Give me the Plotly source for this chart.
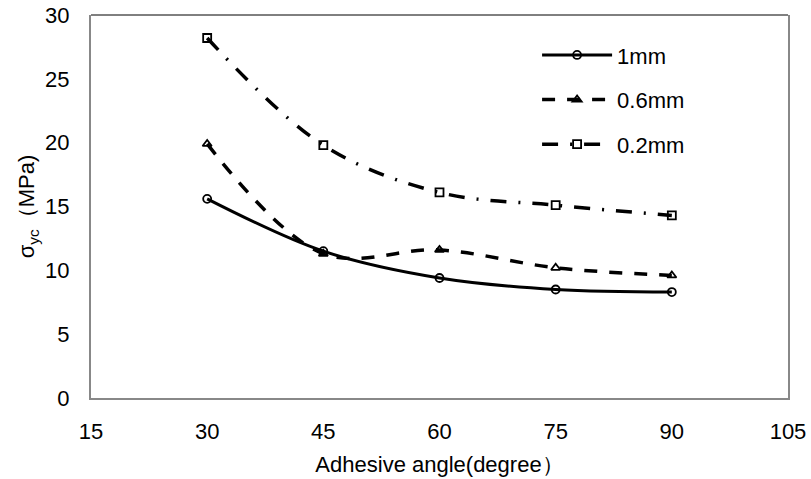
import plotly.graph_objects as go

angles = [30, 45, 60, 75, 90]
s_1mm = [15.6, 11.5, 9.4, 8.5, 8.3]
s_06mm = [19.9, 11.3, 11.6, 10.2, 9.6]
s_02mm = [28.2, 19.8, 16.1, 15.1, 14.3]
names = ["1mm", "0.6mm", "0.2mm"]
x_ticks = [15, 30, 45, 60, 75, 90, 105]
y_ticks = [0, 5, 10, 15, 20, 25, 30]

FONT = "Liberation Sans, Arial, sans-serif"

fig = go.Figure()
styles = [
    (s_1mm, "solid", "circle-open", 3),
    (s_06mm, "13px,12px", "triangle-up-open", 3.5),
    (s_02mm, "16px,12px,2px,12px", "square-open", 3.5),
]
for name, (vals, dash, sym, w) in zip(names, styles):
    fig.add_trace(go.Scatter(
        x=angles, y=vals, name=name, legendgroup=name,
        mode="lines+markers",
        line=dict(color="black", width=w, dash=dash, shape="spline", smoothing=1),
        marker=dict(symbol=sym, size=8, color="black", line=dict(width=1.8, color="black")),
    ))

fig.update_layout(
    width=811, height=479,
    margin=dict(l=91, r=23, t=15, b=81),
    paper_bgcolor="white", plot_bgcolor="white",
    font=dict(family=FONT, size=22, color="black"),
    showlegend=True,
    legend=dict(x=0.64, y=0.95, xanchor="left", yanchor="top",
                bgcolor="rgba(0,0,0,0)", tracegroupgap=13, itemwidth=70,
                font=dict(size=22)),
    xaxis=dict(range=[15, 105], tickvals=x_ticks, showgrid=False, zeroline=False,
               showline=True, linecolor="#888888", linewidth=2, mirror=False,
               ticks="", ticklabelstandoff=13, automargin=False,
               title=dict(text="Adhesive angle(degree）", font=dict(size=22), standoff=13)),
    yaxis=dict(range=[0, 30], tickvals=y_ticks, showgrid=False, zeroline=False,
               showline=True, linecolor="#888888", linewidth=2, mirror=True,
               ticks="", ticklabelstandoff=15, automargin=False,
               title=dict(text="σ<sub>yc</sub>（MPa)", font=dict(size=22), standoff=4)),
    shapes=[dict(type="line", xref="paper", yref="paper", x0=0, x1=1, y0=1, y1=1,
                 line=dict(color="black", width=1))],
)

fig.write_html("out.html")
